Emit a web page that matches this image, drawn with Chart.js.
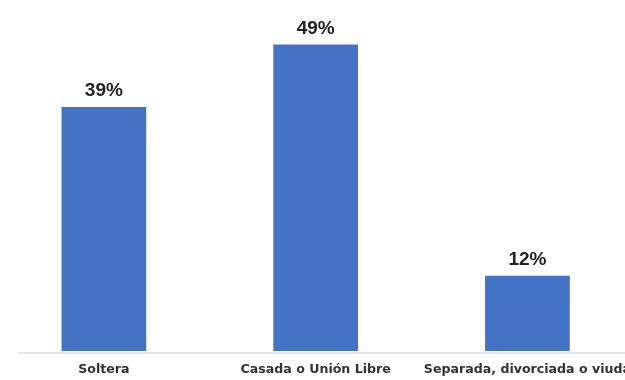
<!DOCTYPE html>
<html>
<head>
<meta charset="utf-8">
<script src="https://cdn.jsdelivr.net/npm/chart.js@4/dist/chart.umd.min.js"></script>
<style>
  html,body{margin:0;padding:0;background:#fff;overflow:hidden;width:625px;height:380px;}
  #wrap{position:absolute;left:-2px;top:0;width:644px;height:392px;}
</style>
</head>
<body>
<div id="wrap"><canvas id="c" width="644" height="392"></canvas></div>
<script>
const categories = ["Soltera", "Casada o Unión Libre", "Separada, divorciada o viuda"];
const values = [39, 49, 12];
const valueLabels = ["39%", "49%", "12%"];

// labels above bars + baseline
const barLabels = {
  id: "barLabels",
  afterDatasetsDraw(chart) {
    const ctx = chart.ctx;
    const meta = chart.getDatasetMeta(0);
    ctx.save();
    ctx.font = "bold 19px 'Liberation Sans', Arial, sans-serif";
    ctx.fillStyle = "#222";
    ctx.textAlign = "center";
    ctx.textBaseline = "alphabetic";
    meta.data.forEach((bar, i) => {
      ctx.fillText(valueLabels[i], bar.x, bar.y - 11);
    });
    const a = chart.chartArea;
    ctx.strokeStyle = "#dedede";
    ctx.lineWidth = 1.5;
    ctx.beginPath();
    ctx.moveTo(a.left + 20, a.bottom + 2);
    ctx.lineTo(a.right, a.bottom + 2);
    ctx.stroke();
    ctx.restore();
  }
};

new Chart(document.getElementById("c"), {
  type: "bar",
  data: {
    labels: categories,
    datasets: [{
      data: values,
      backgroundColor: "#4472c4",
      categoryPercentage: 1,
      barPercentage: 0.4
    }]
  },
  options: {
    responsive: false,
    animation: false,
    layout: { padding: { top: 7, left: 0, right: 0, bottom: 4 } },
    plugins: { legend: { display: false }, tooltip: { enabled: false } },
    scales: {
      x: {
        grid: { display: false, drawTicks: false },
        border: { display: false },
        ticks: {
          maxRotation: 0,
          autoSkip: false,
          padding: 11,
          color: "#333",
          font: { family: "'DejaVu Sans', sans-serif", size: 12.6, weight: "bold" }
        }
      },
      y: { display: false, min: 0, max: 55 }
    }
  },
  plugins: [barLabels]
});
</script>
</body>
</html>
